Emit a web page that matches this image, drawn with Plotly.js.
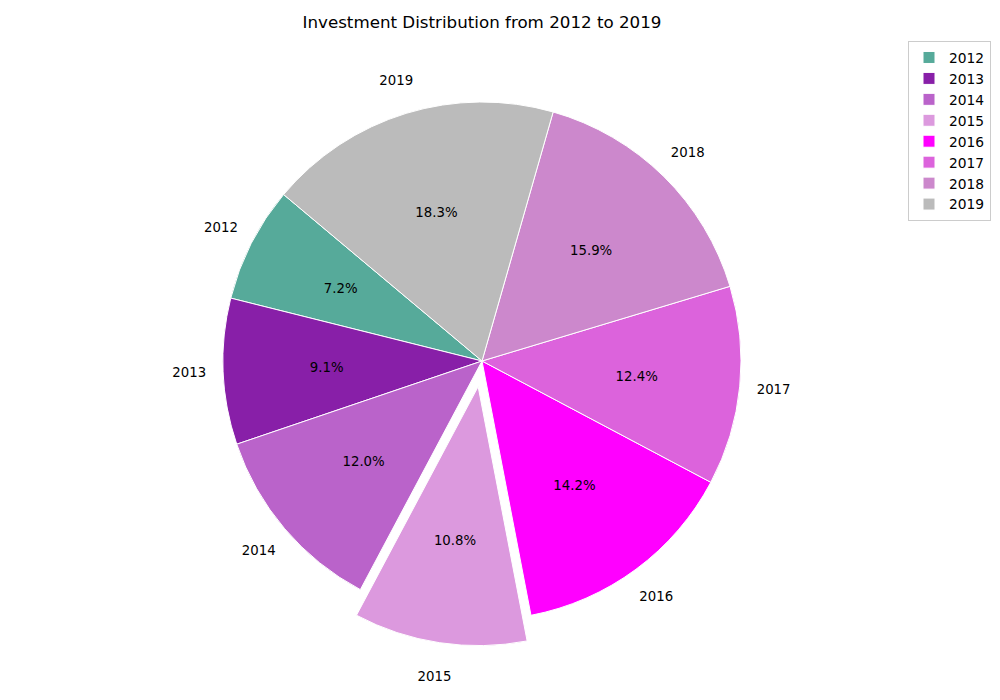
<!DOCTYPE html>
<html>
<head>
<meta charset="utf-8">
<script src="https://cdn.plot.ly/plotly-3.0.1.min.js"></script>
<style>html,body{margin:0;padding:0;background:#fff;}#chart{width:1000px;height:700px;}</style>
</head>
<body>
<div id="chart"></div>
<script>
const years = ['2012', '2013', '2014', '2015', '2016', '2017', '2018', '2019'];
const shares = [7.2, 9.1, 12.0, 10.8, 14.2, 12.4, 15.9, 18.3];
const colors = ['#56AA9A', '#881FA8', '#BA63CA', '#DC99DE', '#FF00FF', '#DC63DC', '#CC88CC', '#BBBBBB'];
const explodeYear = '2015';

const W = 1000, H = 700;
const cx = 482, cy = 361, R = 259;       // pie centre and radius in pixels
const explode = 0.1;                      // matplotlib-like explode (fraction of R)
const startAngle = 140;                   // matplotlib-like startangle

const total = shares.reduce((a, b) => a + b, 0);
const rotation = 90 - startAngle - 360 * shares[0] / total;

function domainFor(radius, pullAbs) {
  const half = radius + pullAbs;
  return {
    x: [(cx - half) / W, (cx + half) / W],
    y: [Math.max(0, (H - cy - half) / H), Math.min(1, (H - cy + half) / H)]
  };
}
function pullsFor(radius) {
  return years.map(y => y === explodeYear ? explode * R / radius : 0);
}

const font = {family: 'DejaVu Sans, sans-serif', size: 13.3, color: '#000'};
const clear = years.map(() => 'rgba(0,0,0,0)');

// main wedges
const main = {
  type: 'pie', labels: years, values: shares, sort: false,
  direction: 'counterclockwise', rotation: rotation,
  marker: {colors: colors, line: {color: '#ffffff', width: 1}},
  pull: pullsFor(R), domain: domainFor(R, explode * R),
  textinfo: 'none', hoverinfo: 'label+percent', showlegend: true
};

// percentage labels (ring centred at 0.6 R)
const Rp = 0.75 * R;
const pct = {
  type: 'pie', labels: years, values: shares, sort: false,
  direction: 'counterclockwise', rotation: rotation, hole: 0.6,
  marker: {colors: clear, line: {width: 0}},
  pull: pullsFor(Rp), domain: domainFor(Rp, explode * R),
  texttemplate: '%{percent:.1%}', textposition: 'inside',
  insidetextorientation: 'horizontal', insidetextfont: font,
  hoverinfo: 'skip', showlegend: false
};

// year labels (ring around ~1.13 R)
const Rl = 313;
const lab = {
  type: 'pie', labels: years, values: shares, sort: false,
  direction: 'counterclockwise', rotation: rotation, hole: 273 / Rl,
  marker: {colors: clear, line: {width: 0}},
  pull: pullsFor(Rl), domain: domainFor(Rl, explode * R),
  texttemplate: '%{label}', textposition: 'inside',
  insidetextorientation: 'horizontal', insidetextfont: font,
  hoverinfo: 'skip', showlegend: false
};

const layout = {
  width: W, height: H,
  margin: {l: 0, r: 0, t: 0, b: 0},
  paper_bgcolor: '#ffffff',
  font: font,
  title: {
    text: 'Investment Distribution from 2012 to 2019',
    font: {family: 'DejaVu Sans, sans-serif', size: 16.7, color: '#000'},
    x: 0.482, xanchor: 'center', y: 1 - 22 / H, yanchor: 'middle'
  },
  legend: {
    x: 0.908, xanchor: 'left', y: 1 - 41 / H, yanchor: 'top',
    bordercolor: '#cccccc', borderwidth: 1, bgcolor: '#ffffff',
    font: {family: 'DejaVu Sans, sans-serif', size: 13.8, color: '#000'},
    traceorder: 'normal'
  },
  showlegend: true
};

Plotly.newPlot('chart', [main, pct, lab], layout, {displayModeBar: false, staticPlot: true});
</script>
</body>
</html>
